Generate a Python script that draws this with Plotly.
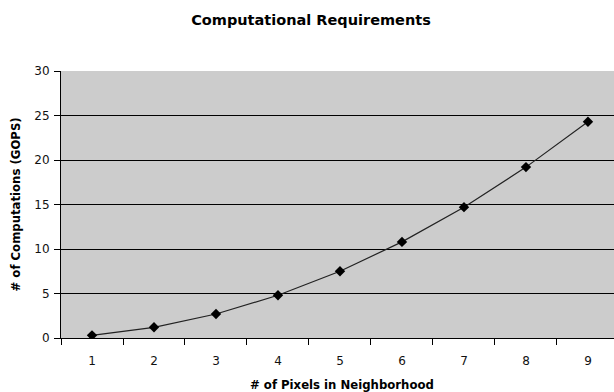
import plotly.graph_objects as go

categories = ["1", "2", "3", "4", "5", "6", "7", "8", "9"]
gops = [0.3, 1.2, 2.7, 4.8, 7.5, 10.8, 14.7, 19.2, 24.3]
y_ticks = [0, 5, 10, 15, 20, 25, 30]

fig = go.Figure()
fig.add_trace(go.Scatter(
    x=categories, y=gops, mode="lines+markers",
    line=dict(color="#222222", width=1.2),
    marker=dict(symbol="diamond", size=8, color="#000000"),
    showlegend=False,
))

font_family = "DejaVu Sans, sans-serif"
fig.update_layout(
    width=614, height=392,
    margin=dict(l=61, r=0, t=71, b=54),
    paper_bgcolor="white",
    plot_bgcolor="#CCCCCC",
    font=dict(family=font_family, size=12, color="#111111"),
    title=dict(
        text="<b>Computational Requirements</b>",
        x=(311) / 614, xanchor="center",
        y=1 - 20 / 392, yanchor="middle", yref="container",
        font=dict(size=14.5, family=font_family, color="#000000"),
    ),
    xaxis=dict(
        type="category",
        range=[-0.5, 8.42],
        tickson="boundaries",
        ticks="outside", ticklen=6, tickcolor="#000000", tickwidth=1,
        showgrid=False,
        showline=True, linecolor="#000000", linewidth=1,
        tickfont=dict(size=12, color="#111111"),
        ticklabelstandoff=12,
        zeroline=False,
    ),
    yaxis=dict(
        range=[0, 30],
        tickvals=y_ticks,
        ticks="outside", ticklen=6, tickcolor="#000000", tickwidth=1,
        showgrid=True, gridcolor="#000000", gridwidth=1,
        showline=True, linecolor="#000000", linewidth=1,
        zeroline=False,
        tickfont=dict(size=12, color="#111111"),
        ticklabelstandoff=2,
    ),
    annotations=[
        dict(text="<b># of Computations (GOPS)</b>", textangle=-90,
             xref="paper", yref="paper", x=(15 - 61) / 553, y=0.5,
             xanchor="center", yanchor="middle", showarrow=False,
             font=dict(size=11.7, family=font_family, color="#000000")),
        dict(text="<b># of Pixels in Neighborhood</b>",
             xref="paper", yref="paper", x=(342 - 61) / 553, y=0, yshift=-47,
             xanchor="center", yanchor="middle", showarrow=False,
             font=dict(size=11.7, family=font_family, color="#000000")),
    ],
)

fig.write_html("out.html", config={"displayModeBar": False},
               post_script="document.body.style.margin='0';")
